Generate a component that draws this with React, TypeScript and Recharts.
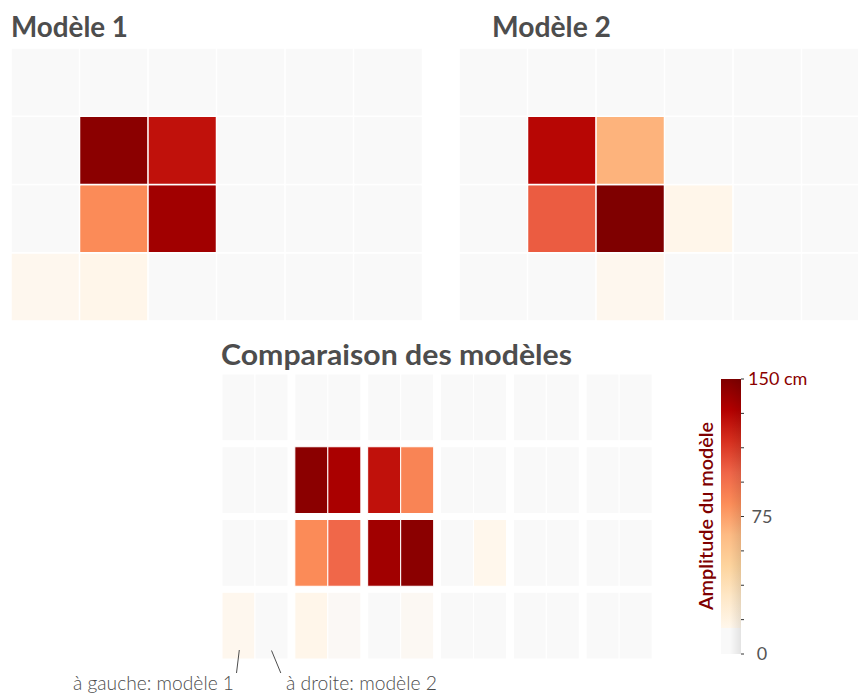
import { BarChart, Bar, XAxis, YAxis } from 'recharts'

const COLONNES = ['c1', 'c2', 'c3', 'c4', 'c5', 'c6']
const LIGNES = ['r0', 'r1', 'r2', 'r3'] // du haut vers le bas

// amplitude (cm), lignes du haut vers le bas
const modele1 = [
  [0, 0, 0, 0, 0, 0],
  [0, 146, 127, 0, 0, 0],
  [0, 83, 139, 0, 0, 0],
  [13, 15, 0, 0, 0, 0],
]
const modele2 = [
  [0, 0, 0, 0, 0, 0],
  [0, 131, 68, 0, 0, 0],
  [0, 102, 150, 15, 0, 0],
  [0, 0, 13, 0, 0, 0],
]
// comparaison : gauche = modèle 1, droite = modèle 2
const compGauche = modele1
const compDroite = [
  [0, 0, 0, 0, 0, 0],
  [0, 136, 86, 0, 0, 0],
  [0, 98, 146, 14, 0, 0],
  [0, 10, 11, 0, 0, 0],
]

const TICKS_BARRE = [0, 18.75, 37.5, 56.25, 75, 93.75, 112.5, 131.25, 150]
const MAX = 150

const OR_RD = ['#fff7ec', '#fee8c8', '#fdd49e', '#fdbb84', '#fc8d59', '#ef6548', '#d7301f', '#b30000', '#7f0000']
const GRIS = '#f9f9f9'
const SEUIL = 14

const hex = (c: string) => [1, 3, 5].map(i => parseInt(c.slice(i, i + 2), 16))
const mix = (a: string, b: string, t: number) => {
  const A = hex(a), B = hex(b)
  return 'rgb(' + A.map((v, i) => Math.round(v + (B[i] - v) * t)).join(',') + ')'
}
function couleur(v: number) {
  if (v <= 8) return GRIS
  if (v < SEUIL) return mix(GRIS, OR_RD[0], (v - 8) / (SEUIL - 8))
  const t = Math.min(1, (v - SEUIL) / (MAX - SEUIL)) * 8
  const i = Math.min(7, Math.floor(t))
  return mix(OR_RD[i], OR_RD[i + 1], t - i)
}

const lignesDe = (m: number[][]) =>
  COLONNES.map((c, j) => {
    const o: Record<string, any> = { col: c }
    LIGNES.forEach((r, i) => { o[r] = 1; o['v_' + r] = m[i][j] })
    return o
  })

const lignesComp = (g: number[][], d: number[][]) =>
  COLONNES.map((c, j) => {
    const o: Record<string, any> = { col: c }
    LIGNES.forEach((r, i) => {
      o['g_' + r] = 1; o['d_' + r] = 1
      o['vg_' + r] = g[i][j]; o['vd_' + r] = d[i][j]
    })
    return o
  })

const POLICE = "Lato, 'Noto Sans', sans-serif"
const marge = { top: 0, right: 0, bottom: 0, left: 0 }

function Grille({ m, w, h }: { m: number[][]; w: number; h: number }) {
  return (
    <BarChart width={w} height={h} data={lignesDe(m)} margin={marge} barCategoryGap={0} barGap={0}>
      <XAxis dataKey="col" hide />
      <YAxis hide type="number" domain={[0, 4]} />
      {[...LIGNES].reverse().map(r => (
        <Bar
          key={r}
          dataKey={r}
          stackId="a"
          isAnimationActive={false}
          shape={(p: any) => (
            <rect x={p.x} y={p.y} width={p.width} height={p.height}
              fill={couleur(p.payload?.['v_' + r] ?? 0)} stroke="#fff" strokeWidth={1.5} />
          )}
        />
      ))}
    </BarChart>
  )
}

function Comparaison() {
  const cote = (s: 'g' | 'd') =>
    [...LIGNES].reverse().map(r => (
      <Bar
        key={s + r}
        dataKey={s + '_' + r}
        stackId={s}
        isAnimationActive={false}
        shape={(p: any) => (
          <rect x={p.x} y={p.y + 3} width={p.width} height={p.height - 6}
            fill={couleur(p.payload?.['v' + s + '_' + r] ?? 0)} stroke="#fff" strokeWidth={1} />
        )}
      />
    ))
  return (
    <BarChart width={437} height={291} data={lignesComp(compGauche, compDroite)} margin={marge} barCategoryGap={3} barGap={0}>
      <XAxis dataKey="col" hide />
      <YAxis hide type="number" domain={[0, 4]} />
      {cote('g')}
      {cote('d')}
    </BarChart>
  )
}

const tickBarre = (p: any) => {
  const v = p.payload?.value
  if (v === MAX)
    return <text x={p.x + 4} y={p.y} dy="0.35em" fill="#8b0000" fontSize={18} fontFamily={POLICE}>150 cm</text>
  if (v === 0 || v === 75)
    return <text x={p.x + 18} y={p.y} dy="0.35em" textAnchor="middle" fill="#555555" fontSize={18} fontFamily={POLICE}>{v}</text>
  return <g />
}

function BarreCouleur() {
  const stops = [0, 8, SEUIL - 0.01, ...OR_RD.map((_, k) => SEUIL + (k * (MAX - SEUIL)) / 8)]
  return (
    <BarChart width={110} height={315} data={[{ k: 'amp', v: MAX }]} margin={{ top: 20, right: 0, bottom: 20, left: 0 }} barCategoryGap={0}>
      <XAxis dataKey="k" hide />
      <YAxis orientation="right" width={90} type="number" domain={[0, MAX]} ticks={TICKS_BARRE} interval={0}
        axisLine={false} tickSize={3} tickMargin={0} tickLine={{ stroke: '#333' }} tick={tickBarre} />
      <Bar
        dataKey="v"
        isAnimationActive={false}
        shape={(p: any) => (
          <g>
            <defs>
              <linearGradient id="degrade" x1="0" y1="1" x2="0" y2="0">
                {stops.map(s => (
                  <stop key={s} offset={s / MAX} stopColor={couleur(s < SEUIL && s > 8 ? 8 : s)} />
                ))}
              </linearGradient>
              <linearGradient id="ombre" x1="0" y1="0" x2="1" y2="0">
                <stop offset="0.45" stopColor="#000" stopOpacity={0} />
                <stop offset="1" stopColor="#000" stopOpacity={0.09} />
              </linearGradient>
            </defs>
            <rect x={p.x} y={p.y} width={p.width} height={p.height} fill="url(#degrade)" />
            <rect x={p.x} y={p.y} width={p.width} height={p.height} fill="url(#ombre)" />
          </g>
        )}
      />
    </BarChart>
  )
}

const abs = (left: number, top: number) => ({ position: 'absolute' as const, left, top })

export default function App() {
  const titre = { fill: '#4d4d4d', fontSize: 28, fontWeight: 700, fontFamily: POLICE }
  const note = { fill: '#4d4d4d', fontSize: 20, fontWeight: 300, fontFamily: POLICE }
  return (
    <div style={{ position: 'absolute', left: 0, top: 0, width: 858, height: 694, overflow: 'hidden', background: '#fff', fontFamily: POLICE }}>
      <div style={abs(11, 48)}><Grille m={modele1} w={411} h={273} /></div>
      <div style={abs(459, 48)}><Grille m={modele2} w={411} h={273} /></div>
      <div style={abs(219, 371)}><Comparaison /></div>
      <div style={abs(721, 359)}><BarreCouleur /></div>
      <svg width={858} height={694} style={{ ...abs(0, 0), pointerEvents: 'none' }}>
        <text x={11} y={37} {...titre} textLength={117} lengthAdjust="spacingAndGlyphs">Modèle 1</text>
        <text x={492} y={37} {...titre} textLength={119} lengthAdjust="spacingAndGlyphs">Modèle 2</text>
        <text x={221} y={365} {...titre} textLength={351} lengthAdjust="spacingAndGlyphs">Comparaison des modèles</text>
        <text x={73} y={690} {...note} textLength={161} lengthAdjust="spacingAndGlyphs">à gauche: modèle 1</text>
        <text x={286} y={690} {...note} textLength={151} lengthAdjust="spacingAndGlyphs">à droite: modèle 2</text>
        <line x1={239.3} y1={650} x2={236.5} y2={673} stroke="#4d4d4d" strokeWidth={1} />
        <line x1={271.5} y1={650.5} x2={280.8} y2={673} stroke="#4d4d4d" strokeWidth={1} />
        <text transform="translate(713,516) rotate(-90)" textAnchor="middle" fill="#7f0000" fontSize={19} fontWeight={600}
          fontFamily={POLICE} textLength={188} lengthAdjust="spacingAndGlyphs">Amplitude du modèle</text>
      </svg>
    </div>
  )
}
